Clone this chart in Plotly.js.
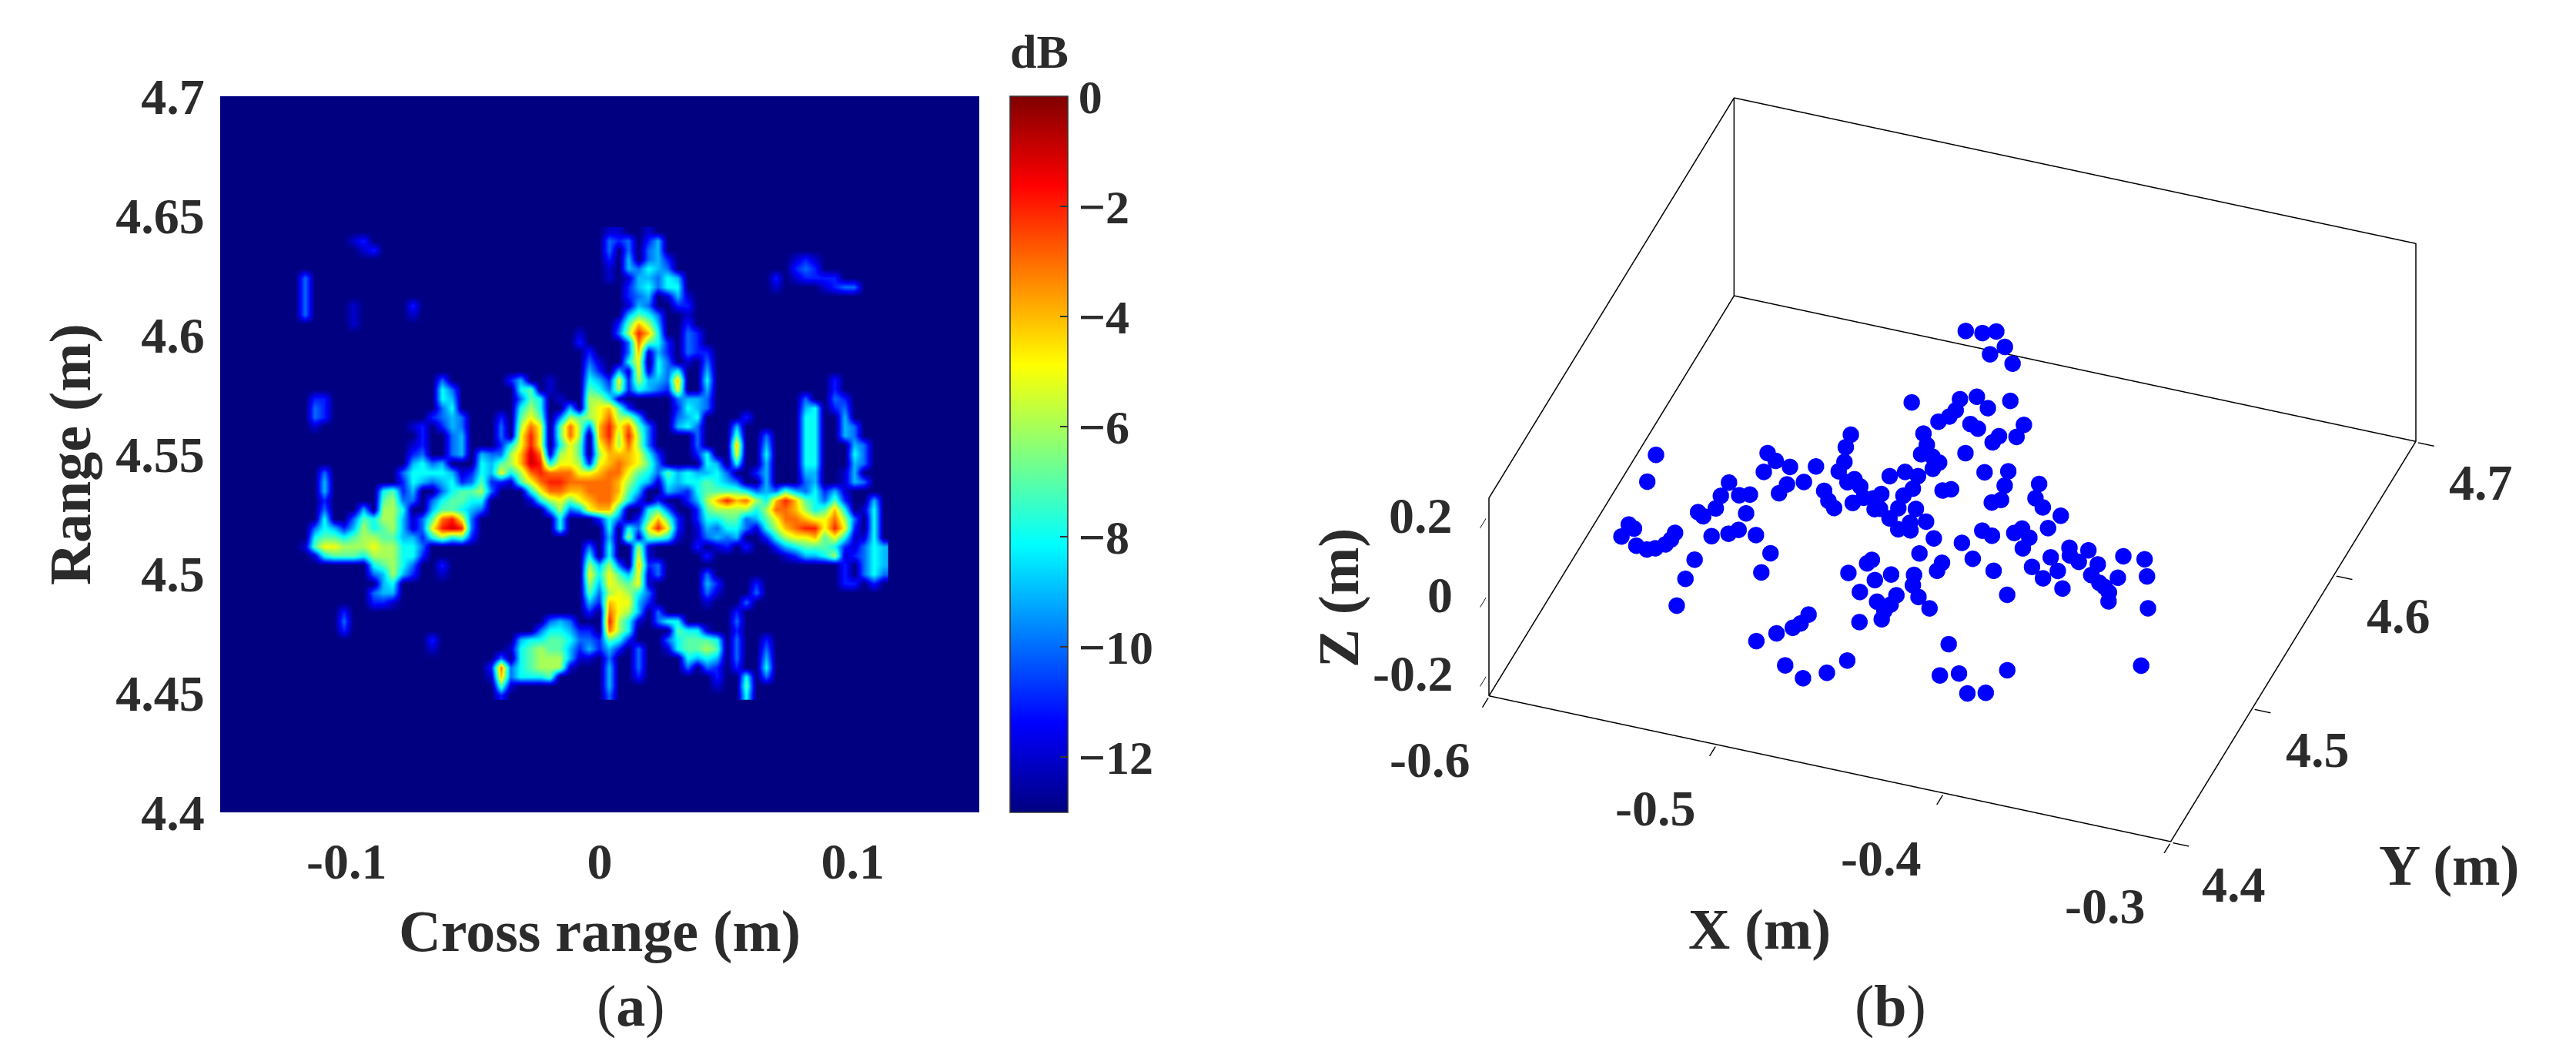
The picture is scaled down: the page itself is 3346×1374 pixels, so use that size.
<!DOCTYPE html>
<html>
<head>
<meta charset="utf-8">
<script src="https://cdn.plot.ly/plotly-3.0.1.min.js"></script>
<style>html,body{margin:0;padding:0;background:#fff}</style>
</head>
<body>
<div id="chart" style="width:3346px;height:1374px"></div>
<script>
// (a) radar image. one char per cell = dB below peak
// . is -13, 0-9 as is, a b c are -10 -11 -12. spaces only to help counting
var imageRows = [
".......... .......... .......... ..cc..c...",
"......cb.. .......... .......... ..aba.b9..",
".......cb. .......... .......... ..a.a.a9..",
".......... .......... .......... ..b.9.a9b. .......... .cbc......",
".......... .......... .......... ..c.9a89a. .......... .bab......",
".a........ .......... .......... ..c.c99a89 .........b .cbbbb....",
".a........ .......... .......... ....b98a88 .........c ....cbaa..",
".a........ .......... .......... ....ba9.c9 c.........",
".a....c... ..b....... .......... ....c9a..b b.........",
".a....c... ..c....... .......... ....978a.. c.........",
"......c... .......... .......... ...b7469.. b.........",
".......... .......... .........c ...a6248.. ab........",
".......... .......... .........b ....a378b. ab........",
".......... .......... .......... b...a4c9b. abb.......",
".......... .......... .......... ac..85.8a. c.a.......",
".......... .......... .......... 9b.9c5c8a8 ..9.......",
".......... .....a.... ..b9..c... 89b5b699a4 ..8....... .....b....",
".......... .....8a... ...87.c... 78a6b89ab5 ..9....... .....b....",
"..bb...... .....89... ...a78.c.. 668c.....a 99a....... ..a..ab...",
"..ab...... .....a8... ...868..9. 6547b....b 89a....... ..98.ba...",
"..ab...... ....ba9a.. .b.757.a67 653669...a 98....b... ..88..9...",
"..c....... ..cb.b9a.. .a.635.736 a42537a..9 8a...9.... ..88..9a..",
".......... ...b..a9.. .a.525.736 .42626a... .a...7..a. ..88..9a..",
".......... ..cb..a9.. .b8525.857 .53636a... .a...4..9. ..88...9a.",
".......... ..ba..a9.9 aa6413c657 .644458b.. .b8..5..8. ..88...8a.",
".......... ..98a9...8 9764128556 b543457a.. ..89.8..9. ..88...9a.",
"...a...... .a88889cb8 9586323335 5433578a79 8998a..b9. ..99..c9..",
"...9...... .b89a98ba7 bbc7532233 3334689c89 88789a..9. ..a9..c9a.",
"...9.....8 7b9..a8776 a...853344 333479..9a b877778a9a 79a8b9c...",
"...b.....7 6aa.a87788 ....c86575 43358b.b.. b964243684 2478a7b..9",
"...a...9.6 68..97789a ......96a9 5448..87a. .b76666863 3468748.c8",
"...8..a786 69ca7325a. .......8.. .b8a.b747b .b8877a975 3345536a.8",
"..a89b9687 69ca5212a. .......8.. ..8.8a525b .c9a88ac86 4322525b.8",
"..87787667 799b8687b. .......... ..9.6c778c .ca9a9..b8 6554758cc8",
".c75566656 688a...... .......... a.8..6c... .b.cb.b..b 987778bca8 9",
"..c8777866 688b...... .......... 8.8..5c... ..b....... cb9986cba8 9",
"........87 68a..b.... .......... 696a.4ba.. .......... ......b.a8 9",
"........a9 69b..c.... .......... 585795ca.. ..a....... ......b.a8 a",
".........9 8......... .......... 695675c... ..9b...b.. ......bb.b",
"........a9 9......... .......... 7a6568a... ..ac...a..",
"........bb c......... .......... 9b4559b... ..c...a...",
".....b.... .......... .......... b.3569.a.. .....b....",
".....a.... .......... ......a9a. ..268c.a88 .....a....",
".....b.... .......... .....a889b b.368....7 88c..b....",
".......... ....b..... ...988778a ab78b...a8 7778.a..b.",
".......... ....c..... ..c876779b 9b9b.a..c8 7767.a..a.",
".......... .......... .a.876669c c.a..a.... 8989.a..9.",
".......... .......... b3a87666c. ..9..a.... a.ab.b..8.",
".......... .......... c4a8887... ..9..b.... ...b..8.a.",
".......... .......... .7c....... ..9....... ...c..7...",
".......... .......... .b........ ..a....... ......8..."
];
var cellX0 = -0.1205, cellDx = 0.003878;
var cellY0 = 4.6433, cellDy = -0.003883;
var dbTicks = [0, -2, -4, -6, -8, -10, -12];
var crossTicks = [-0.1, 0, 0.1];
var crossLabels = ["-0.1", "0", "0.1"];
var rangeTicks = [4.4, 4.45, 4.5, 4.55, 4.6, 4.65, 4.7];
var rangeLabels = ["4.4", "4.45", "4.5", "4.55", "4.6", "4.65", "4.7"];

// (b) scatterers. only a 2D view is available so Z is a rough guess
var pointX = [-.478,-.471,-.466,-.459,-.463,-.452,-.482,-.444,-.464,-.458,-.451,-.463,-.464,-.467,-.454,-.450,-.433,-.433,-.440,-.441,
-.470,-.466,-.466,-.461,-.457,-.458,-.449,-.437,-.428,-.426,-.424,-.427,-.498,-.497,-.494,-.494,-.488,-.486,-.482,-.481,
-.478,-.474,-.472,-.473,-.468,-.462,-.461,-.463,-.462,-.455,-.463,-.469,-.471,-.448,-.454,-.452,-.457,-.441,-.443,-.449,-.446,
-.569,-.566,-.526,-.521,-.514,-.523,-.504,-.505,-.511,-.512,-.495,-.491,-.487,-.534,-.534,-.527,-.523,-.533,-.520,-.539,-.536,
-.563,-.560,-.563,-.555,-.550,-.547,-.544,-.543,-.543,-.528,-.522,-.519,-.511,-.501,-.529,-.528,-.525,-.500,
-.481,-.482,-.484,-.489,-.495,-.478,-.468,-.460,-.455,
-.466,-.461,-.460,-.454,-.449,-.457,-.448,-.442,-.442,-.443,-.442,-.450,-.440,-.438,-.433,-.426,-.432,-.432,-.410,-.406,-.399,-.391,-.384,-.381,
-.429,-.421,-.424,-.419,-.410,-.399,-.411,-.409,-.404,-.404,-.399,-.397,-.413,-.411,-.406,-.396,-.389,-.391,-.385,-.379,-.386,-.384,-.379,-.378,-.371,-.371,-.366,-.363,-.360,-.360,-.358,-.363,-.354,-.349,-.341,-.330];
var pointY = [4.644,4.645,4.648,4.639,4.632,4.629,4.589,4.604,4.598,4.602,4.596,4.590,4.585,4.580,4.583,4.581,4.590,4.581,4.579,4.574,
4.570,4.563,4.556,4.556,4.553,4.548,4.563,4.553,4.557,4.547,4.537,4.534,4.559,4.550,4.540,4.533,4.527,4.530,4.526,4.514,
4.519,4.520,4.524,4.537,4.542,4.541,4.532,4.526,4.517,4.519,4.509,4.514,4.513,4.512,4.509,4.504,4.503,4.502,4.490,4.535,4.537,
4.518,4.499,4.535,4.531,4.529,4.522,4.533,4.521,4.517,4.510,4.518,4.512,4.508,4.510,4.500,4.503,4.505,4.491,4.492,4.486,4.484,
4.468,4.466,4.459,4.455,4.454,4.456,4.460,4.464,4.469,4.472,4.476,4.480,4.479,4.469,4.454,4.440,4.421,4.455,
4.460,4.453,4.449,4.443,4.435,4.423,4.417,4.424,4.435,
4.467,4.476,4.479,4.466,4.472,4.456,4.452,4.459,4.452,4.447,4.441,4.436,4.475,4.468,4.461,4.455,4.481,4.487,4.434,4.412,4.416,4.404,4.407,4.425,
4.503,4.494,4.514,4.512,4.489,4.475,4.517,4.521,4.516,4.508,4.525,4.535,4.553,4.543,4.538,4.497,4.491,4.506,4.498,4.487,4.515,4.510,4.507,4.516,4.508,4.500,4.496,4.494,4.502,4.491,4.485,4.517,4.518,4.507,4.486,4.447];
var pointZ = [0,0,0,0,0,0,0,0,0,0,0,0,0,0,0,0,0,0,0,0,
0,0,0,0,0,0,0,0,0,0,0,0,0,0,0,0,0,0,0,0,
0,0,0,0,0,0,0,0,0,0,0,0,0,0,0,0,0,0,0,0,0,
0,0,0,0,0,0,0,0,0,0,0,0,0,0,0,0,0,0,0,0,0,
0,0,0,0,0,0,0,0,0,0,0,0,0,0,0,0,0,0,
-.1,-.1,-.1,-.1,-.1,-.1,-.1,-.1,-.1,
0,0,0,0,0,0,0,0,0,0,0,0,0,0,0,0,0,0,0,0,0,0,0,0,
0,0,0,0,0,0,0,0,0,0,0,0,0,0,0,0,0,0,0,0,0,0,0,0,0,0,0,0,0,0,0,0,0,0,0,0];
var xRange = [-0.6, -0.3], yRange = [4.4, 4.7], zRange = [-0.25, 0.25];
var xTicks = [-0.6, -0.5, -0.4, -0.3];
var yTicks = [4.4, 4.5, 4.6, 4.7];
var zTicks = [-0.2, 0, 0.2];

var serif = "Liberation Serif";
var ink = "#2b2b2b";

var z = imageRows.map(function (row) {
    var cells = row.replace(/ /g, "").split("");
    while (cells.length < 61) cells.push(".");
    return cells.map(function (c) {
        if (c == ".") return -13;
        return -parseInt(c, 16);
    });
});

// helper, pixel position on the page to paper coords
function label(text, px, py, size, bold, extra) {
    var a = {
        text: text, xref: "paper", yref: "paper",
        x: px / 3346, y: 1 - py / 1374,
        xanchor: "center", yanchor: "middle", showarrow: false,
        font: {family: serif, size: size, color: ink, weight: bold ? 700 : 400}
    };
    for (var k in extra) a[k] = extra[k];
    return a;
}

var heat = {
    type: "heatmap", z: z, x0: cellX0, dx: cellDx, y0: cellY0, dy: cellDy,
    zmin: -13, zmax: 0, zsmooth: "best", hoverinfo: "skip",
    colorscale: [[0, "rgb(0,0,128)"], [0.125, "rgb(0,0,255)"], [0.375, "rgb(0,255,255)"],
        [0.625, "rgb(255,255,0)"], [0.875, "rgb(255,0,0)"], [1, "rgb(128,0,0)"]],
    colorbar: {
        x: 1312 / 3346, xanchor: "left", xpad: 0, y: 1 - 125 / 1374, yanchor: "top", ypad: 0,
        thicknessmode: "pixels", thickness: 75, lenmode: "pixels", len: 930,
        tickvals: dbTicks, ticks: "inside", ticklen: 10, tickcolor: "#333", tickwidth: 2,
        outlinecolor: "#333", outlinewidth: 1.5,
        tickfont: {family: serif, size: 62, color: ink, weight: 700}
    }
};

var dots = {
    type: "scatter3d", mode: "markers", x: pointX, y: pointY, z: pointZ,
    marker: {color: "#0000ff", size: 12.5, line: {width: 0}}, hoverinfo: "skip", showlegend: false
};

// outline of the floor and the two back walls
var xa = xRange[0], xb = xRange[1], ya = yRange[0], yb = yRange[1], za = zRange[0], zb = zRange[1];
var box = {
    type: "scatter3d", mode: "lines", hoverinfo: "skip", showlegend: false,
    x: [xa, xb, xb, xa, xa, xa, xa, xa, xa, xa, xb, xb],
    y: [ya, ya, yb, yb, ya, ya, yb, yb, yb, yb, yb, yb],
    z: [za, za, za, za, za, zb, zb, za, zb, zb, zb, za],
    line: {color: "#000000", width: 3}
};

// range is a touch wider than the box, lines right on the bound get clipped
function sceneAxis(range, ticks, pad) {
    return {
        range: [range[0] - pad, range[1] + pad], autorange: false, tickmode: "array", tickvals: ticks,
        showticklabels: false, ticks: "outside", ticklen: 22, tickcolor: "#000000", tickwidth: 3,
        showgrid: false, zeroline: false, showline: false, showbackground: false, showspikes: false,
        title: {text: ""}
    };
}

var layout = {
    width: 3346, height: 1374, margin: {l: 0, r: 0, t: 0, b: 0},
    paper_bgcolor: "#fff", plot_bgcolor: "rgb(0,0,128)", showlegend: false,
    xaxis: {
        domain: [286 / 3346, 1272 / 3346], range: [-0.15, 0.15],
        tickvals: crossTicks, ticktext: crossLabels, ticks: "outside", ticklen: 6, tickcolor: "rgba(0,0,0,0)",
        showgrid: false, zeroline: false,
        tickfont: {family: serif, size: 66, color: ink, weight: 700},
        title: {text: "Cross range (m)", standoff: 27, font: {family: serif, size: 76, color: ink, weight: 700}}
    },
    yaxis: {
        domain: [1 - 1055 / 1374, 1 - 125 / 1374], range: [4.4, 4.7],
        tickvals: rangeTicks, ticktext: rangeLabels, ticks: "outside", ticklen: 6, tickcolor: "rgba(0,0,0,0)",
        showgrid: false, zeroline: false,
        tickfont: {family: serif, size: 66, color: ink, weight: 700},
        title: {text: "Range (m)", standoff: 7, font: {family: serif, size: 76, color: ink, weight: 700}}
    },
    scene: {
        domain: {x: [1886 / 3346, 3186 / 3346], y: [1 - 1210 / 1374, 1 - 10 / 1374]},
        // with the orthographic camera the aspect ratio is what sets the drawn size
        aspectmode: "manual", aspectratio: {x: 1.58, y: 1.57, z: 0.535},
        camera: {
            projection: {type: "orthographic"},
            center: {x: 0, y: 0, z: 0},
            up: {x: 0, y: 0, z: 1},
            eye: {x: 0.2745 * 1.02, y: -0.7587 * 1.02, z: 0.5905 * 1.02}
        },
        xaxis: sceneAxis(xRange, xTicks, 0.001),
        yaxis: sceneAxis(yRange, yTicks, 0.001),
        zaxis: sceneAxis(zRange, zTicks, 0.002)
    },
    annotations: [
        label("dB", 1350, 67, 62, true),
        label("(<b>a</b>)", 819, 1306, 76, false),
        label("(<b>b</b>)", 2455, 1306, 76, false),
        label("-0.6", 1857, 987, 66, true),
        label("-0.5", 2150, 1049, 66, true),
        label("-0.4", 2443, 1114, 66, true),
        label("-0.3", 2734, 1176, 66, true),
        label("4.4", 2901, 1148, 66, true),
        label("4.5", 3010, 973, 66, true),
        label("4.6", 3115, 799, 66, true),
        label("4.7", 3222, 626, 66, true),
        label("0.2", 1889, 669, 66, true, {xanchor: "right"}),
        label("0", 1889, 772, 66, true, {xanchor: "right"}),
        label("-0.2", 1889, 874, 66, true, {xanchor: "right"}),
        label("X (m)", 2285, 1206, 75, true),
        label("Y (m)", 3181, 1123, 75, true),
        label("Z (m)", 1738, 777, 75, true, {textangle: -90})
    ]
};

Plotly.newPlot("chart", [heat, box, dots], layout, {displayModeBar: false});
</script>
</body>
</html>
